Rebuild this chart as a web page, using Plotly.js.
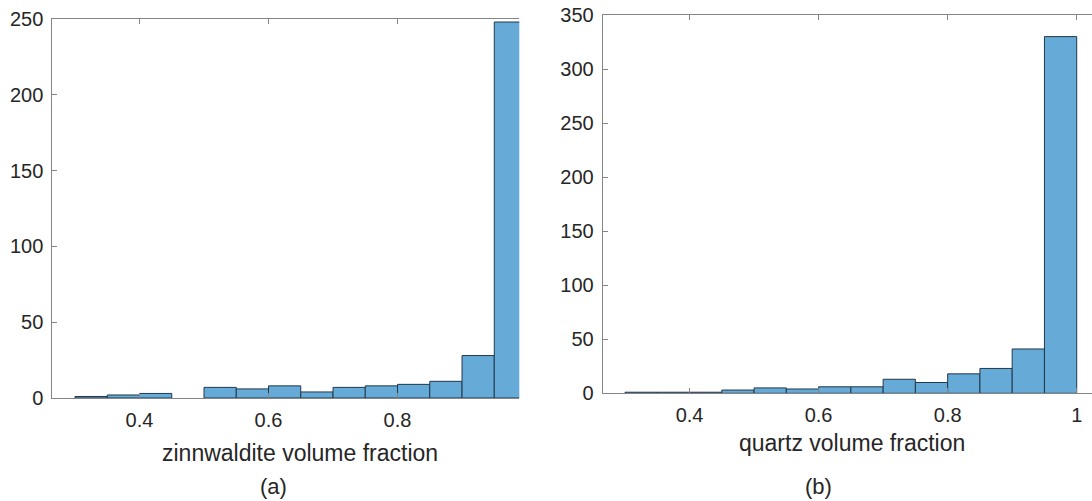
<!DOCTYPE html>
<html>
<head>
<meta charset="utf-8">
<script src="https://cdn.plot.ly/plotly-3.0.1.min.js"></script>
<style>html,body{margin:0;padding:0;background:#fff;}#chart{width:1092px;height:501px;}</style>
</head>
<body>
<div id="chart"></div>
<script>
// Bin centres (bin width 0.05, edges 0.30 ... 1.00)
const binCenters = [0.325, 0.375, 0.425, 0.475, 0.525, 0.575, 0.625, 0.675, 0.725, 0.775, 0.825, 0.875, 0.925, 0.975];
const binWidth = 0.05;
// (a) zinnwaldite volume fraction counts
const zinnwalditeCounts = [1, 2, 3, 0, 7, 6, 8, 4, 7, 8, 9, 11, 28, 248];
// (b) quartz volume fraction counts
const quartzCounts = [1, 1, 1, 3, 5, 4, 6, 6, 13, 10, 18, 23, 41, 330];
const xTicksA = [0.4, 0.6, 0.8];
const xTickTextA = ['0.4', '0.6', '0.8'];
const xTicksB = [0.4, 0.6, 0.8, 1.0];
const xTickTextB = ['0.4', '0.6', '0.8', '1'];
const yTicksA = [0, 50, 100, 150, 200, 250];
const yTicksB = [0, 50, 100, 150, 200, 250, 300, 350];
const titleA = 'zinnwaldite volume fraction';
const titleB = 'quartz volume fraction';
const panelA = '(a)';
const panelB = '(b)';

const W = 1092, H = 501;
const fill = '#66AAD7';
const edge = '#22384c';
const axisCol = '#858585';
const textCol = '#262626';
const FONT = 'Liberation Sans, Arial, Helvetica, sans-serif';

function barTrace(y, xa, ya) {
  return {
    type: 'bar', x: binCenters, y: y, width: binWidth, xaxis: xa, yaxis: ya,
    // empty bins draw no outline
    marker: {color: fill, line: {color: edge, width: y.map(c => (c > 0 ? 1 : 0))}},
    hoverinfo: 'x+y', showlegend: false
  };
}

function xAxis(domain, range, tv, tt, anchor) {
  return {
    domain: domain, range: range, anchor: anchor,
    tickmode: 'array', tickvals: tv, ticktext: tt,
    ticks: 'inside', ticklen: 5, tickwidth: 1, tickcolor: axisCol,
    showline: true, linecolor: axisCol, linewidth: 1, mirror: 'ticks',
    showgrid: false, zeroline: false,
    tickfont: {family: FONT, size: 20, color: textCol},
    ticklabelstandoff: 4
  };
}
function yAxis(domain, range, tv, anchor) {
  return {
    domain: domain, range: range, anchor: anchor,
    tickmode: 'array', tickvals: tv,
    ticks: 'inside', ticklen: 5, tickwidth: 1, tickcolor: axisCol,
    showline: true, linecolor: axisCol, linewidth: 1, mirror: false,
    showgrid: false, zeroline: false,
    tickfont: {family: FONT, size: 20, color: textCol},
    ticklabelstandoff: 4
  };
}

const px = v => v / W;
const py = v => 1 - v / H;

const data = [
  barTrace(zinnwalditeCounts, 'x', 'y'),
  barTrace(quartzCounts, 'x2', 'y2')
];

const layout = {
  width: W, height: H,
  margin: {l: 0, r: 0, t: 0, b: 0},
  paper_bgcolor: '#ffffff', plot_bgcolor: '#ffffff',
  bargap: 0,
  xaxis: xAxis([px(52.3), px(519.3)], [0.2648, 0.9888], xTicksA, xTickTextA, 'y'),
  yaxis: yAxis([py(398), py(19)], [0, 250], yTicksA, 'x'),
  xaxis2: xAxis([px(602.7), 1], [0.2654, 1.0237], xTicksB, xTickTextB, 'y2'),
  yaxis2: yAxis([py(393.3), py(15)], [0, 350], yTicksB, 'x2'),
  annotations: [
    {text: titleA, xref: 'paper', yref: 'paper', x: px(300), y: py(453), xanchor: 'center', yanchor: 'middle', showarrow: false, font: {family: FONT, size: 23, color: textCol}},
    {text: titleB, xref: 'paper', yref: 'paper', x: px(852), y: py(443), xanchor: 'center', yanchor: 'middle', showarrow: false, font: {family: FONT, size: 23, color: textCol}},
    {text: panelA, xref: 'paper', yref: 'paper', x: px(273), y: py(486), xanchor: 'center', yanchor: 'middle', showarrow: false, font: {family: FONT, size: 22, color: textCol}},
    {text: panelB, xref: 'paper', yref: 'paper', x: px(818), y: py(486), xanchor: 'center', yanchor: 'middle', showarrow: false, font: {family: FONT, size: 22, color: textCol}}
  ]
};

Plotly.newPlot('chart', data, layout, {staticPlot: true, displayModeBar: false});
</script>
</body>
</html>
